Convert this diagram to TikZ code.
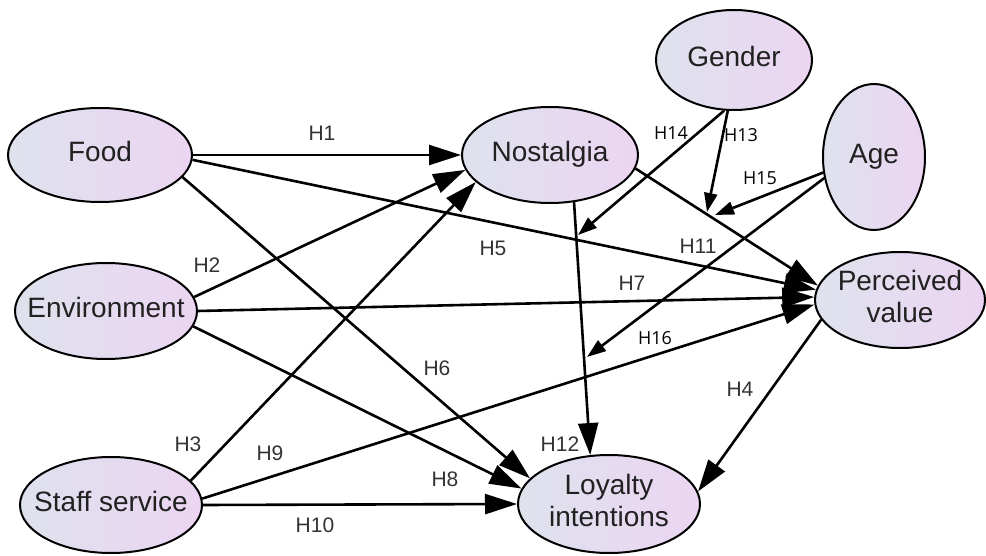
\documentclass[tikz,border=0pt]{standalone}
\usepackage{fontspec}
\setmainfont{Liberation Sans}
\newfontfamily\modfont{Open Sans}
\usetikzlibrary{shapes.geometric,arrows.meta}
\definecolor{fillL}{RGB}{222,226,237}
\definecolor{fillR}{RGB}{236,213,242}
\newcommand{\vtxt}[1]{\makebox[0pt]{\begin{tabular}{@{}c@{}}#1\end{tabular}}}
\tikzset{
  var/.style={ellipse, draw=black, line width=2pt, inner sep=0pt,
    left color=fillL, right color=fillR, font=\fontsize{28}{32}\selectfont,
    text=black!87},
  path/.style={line width=2.6pt, -{Triangle[length=32pt,width=20pt]}},
  modpath/.style={line width=2.6pt, -{Triangle[length=19pt,width=13pt]}},
  hlab/.style={font=\fontsize{21}{24}\selectfont, text=black!80, inner sep=0pt},
  mlab/.style={font=\modfont\fontsize{18}{21}\selectfont, text=black, inner sep=0pt},
}
\begin{document}
\begin{tikzpicture}[x=1pt,y=-1pt]
\useasboundingbox (0,0) rectangle (986,556);
\node[var, minimum width=184pt, minimum height=94pt] (food) at (100,155) {\vtxt{Food}};
\node[var, minimum width=182pt, minimum height=96pt] (env) at (106,311) {\vtxt{Environment}};
\node[var, minimum width=182pt, minimum height=96pt] (staff) at (111,505) {\vtxt{Staff service}};
\node[var, minimum width=176pt, minimum height=96pt] (nost) at (550,155) {\vtxt{Nostalgia}};
\node[var, minimum width=156pt, minimum height=100pt] (gender) at (734,60) {\vtxt{Gender}};
\node[var, minimum width=102pt, minimum height=146pt] (age) at (874,157) {\vtxt{Age}};
\node[var, minimum width=170pt, minimum height=96pt] (pv) at (900,300) {\vtxt{Perceived\\value}};
\node[var, minimum width=182pt, minimum height=98pt] (loy) at (609,504) {\vtxt{Loyalty\\intentions}};

\coordinate (m14) at (578,235);
\coordinate (m13) at (707,212);
\coordinate (m15) at (715,215);
\coordinate (m16) at (587,357);

\draw[path] (food.east) -- (nost.west);
\draw[path] (food.-3) -- (pv.173);
\draw[path] (food.-15) -- (loy.162);
\draw[path] (env.9) -- (nost.190);
\draw[path] (env.east) -- (pv.178);
\draw[path] (env.-10) -- (loy.170);
\draw[path] (staff.17) -- (nost.200);
\draw[path] (staff.4) -- (pv.183);
\draw[path] (staff.east) -- (loy.west);
\draw[path] (nost.-63) -- (loy.111);
\draw[path] (nost.-9) -- (pv.170);
\draw[path] (pv.194) -- (loy.8);

\draw[modpath] (gender.-101) -- (m14);
\draw[modpath] (gender.-97) -- (m13);
\draw[modpath] (age.197) -- (m15);
\draw[modpath] (age.203) -- (m16);

\node[hlab] (h1) at (322,133) {H1};
\node[hlab] (h2) at (207,265) {H2};
\node[hlab] (h3) at (188,444) {H3};
\node[hlab] (h4) at (740,389) {H4};
\node[hlab] (h5) at (493,248) {H5};
\node[hlab] (h6) at (437,368) {H6};
\node[hlab] (h7) at (632,283) {H7};
\node[hlab] (h8) at (445,479) {H8};
\node[hlab] (h9) at (270,453) {H9};
\node[hlab] (h10) at (315,525) {H10};
\node[hlab] (h11) at (698,246) {H11};
\node[hlab] (h12) at (560,444) {H12};
\node[mlab] (h13) at (741,135) {H13};
\node[mlab] (h14) at (671,133) {H14};
\node[mlab] (h15) at (760,178) {H15};
\node[mlab] (h16) at (655,338) {H16};
\end{tikzpicture}
\end{document}
